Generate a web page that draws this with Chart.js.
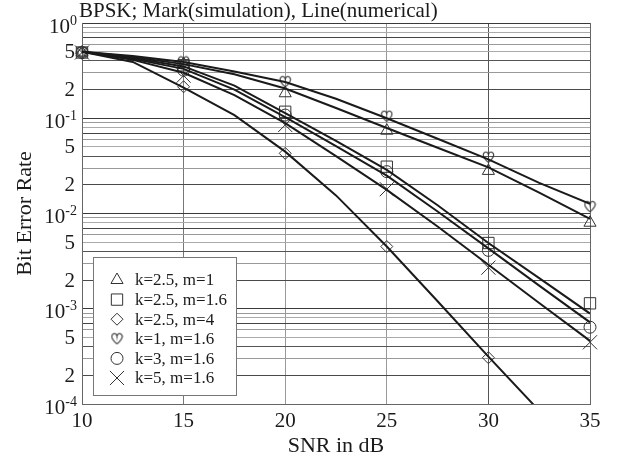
<!DOCTYPE html>
<html lang="en">
<head>
    <meta charset="UTF-8">
    <title>BPSK Bit Error Rate</title>
    <script src="https://cdn.jsdelivr.net/npm/chart.js"></script>
    <style>
        body {
            margin: 0;
            padding: 0;
            background-color: #ffffff;
        }
        #berChart {
            display: block;
        }
    </style>
</head>
<body>
<canvas id="berChart" width="620" height="459"></canvas>

<script>
    // SNR points: numerical curves every 2.5 dB, simulation marks every 5 dB
    const lineSnr = [10, 12.5, 15, 17.5, 20, 22.5, 25, 27.5, 30, 32.5, 35];
    const markSnr = [10, 15, 20, 25, 30, 35];

    // numerical BER curves
    const lineK25m1  = [0.5, 0.44, 0.37, 0.29, 0.205, 0.128, 0.079, 0.049, 0.0305, 0.0166, 0.0088];
    const lineK25m16 = [0.5, 0.43, 0.35, 0.22, 0.113, 0.058, 0.0287, 0.0122, 0.0049, 0.0021, 0.00089];
    const lineK25m4  = [0.5, 0.39, 0.21, 0.108, 0.0446, 0.0155, 0.0045, 0.0012, 0.000314, 0.000085];
    const lineK1m16  = [0.5, 0.45, 0.39, 0.31, 0.24, 0.16, 0.1, 0.061, 0.037, 0.021, 0.0126];
    const lineK3m16  = [0.5, 0.42, 0.33, 0.2, 0.103, 0.051, 0.025, 0.0105, 0.0043, 0.00175, 0.00072];
    const lineK5m16  = [0.5, 0.41, 0.3, 0.175, 0.089, 0.04, 0.0177, 0.0073, 0.0029, 0.00115, 0.00046];

    // simulated BER marks
    const markK25m1  = [0.49, 0.37, 0.183, 0.074, 0.028, 0.008];
    const markK25m16 = [0.49, 0.36, 0.117, 0.031, 0.0049, 0.00114];
    const markK25m4  = [0.48, 0.214, 0.0428, 0.0045, 0.000306];
    const markK1m16  = [0.49, 0.39, 0.242, 0.105, 0.039, 0.0118];
    const markK3m16  = [0.49, 0.32, 0.108, 0.0275, 0.0041, 0.00064];
    const markK5m16  = [0.49, 0.28, 0.085, 0.018, 0.0027, 0.000445];

    const seriesNames = ['k=2.5, m=1', 'k=2.5, m=1.6', 'k=2.5, m=4', 'k=1, m=1.6', 'k=3, m=1.6', 'k=5, m=1.6'];

    // axis ticks
    const xTicks = [10, 15, 20, 25, 30, 35];
    const yTickValues = [1, 0.5, 0.2, 0.1, 0.05, 0.02, 0.01, 0.005, 0.002, 0.001, 0.0005, 0.0002, 0.0001];
    const yTickLabels = ['10^0', '5', '2', '10^-1', '5', '2', '10^-2', '5', '2', '10^-3', '5', '2', '10^-4'];

    const serif = '"Liberation Serif", "Times New Roman", serif';
    const ink = '#1a1a1a';
    const clear = 'rgba(0,0,0,0)';

    // heart shaped marker, drawn once on a small canvas
    function makeHeart(size) {
        const c = document.createElement('canvas');
        c.width = size;
        c.height = size;
        const g = c.getContext('2d');
        const s = size;
        g.strokeStyle = '#333';
        g.lineWidth = 1.1;
        g.beginPath();
        g.moveTo(s / 2, s * 0.9);
        g.bezierCurveTo(s * 0.15, s * 0.6, s * 0.02, s * 0.35, s * 0.15, s * 0.18);
        g.bezierCurveTo(s * 0.3, s * 0.02, s * 0.48, s * 0.12, s / 2, s * 0.3);
        g.bezierCurveTo(s * 0.52, s * 0.12, s * 0.7, s * 0.02, s * 0.85, s * 0.18);
        g.bezierCurveTo(s * 0.98, s * 0.35, s * 0.85, s * 0.6, s / 2, s * 0.9);
        g.stroke();
        return c;
    }
    const heart = makeHeart(13);

    const markStyles = [
        { pointStyle: 'triangle', radius: 7 },
        { pointStyle: 'rect', radius: 8 },
        { pointStyle: 'rectRot', radius: 6 },
        { pointStyle: heart, radius: 6 },
        { pointStyle: 'circle', radius: 6 },
        { pointStyle: 'crossRot', radius: 10 }
    ];

    const lineSets = [lineK25m1, lineK25m16, lineK25m4, lineK1m16, lineK3m16, lineK5m16];
    const markSets = [markK25m1, markK25m16, markK25m4, markK1m16, markK3m16, markK5m16];

    const toPoints = (xs, ys) => ys.map((y, i) => ({ x: xs[i], y: y }));

    const datasets = [];
    lineSets.forEach((ys, i) => {
        datasets.push({
            label: seriesNames[i] + ' (numerical)',
            data: toPoints(lineSnr, ys),
            borderColor: ink,
            borderWidth: 2,
            pointRadius: 0,
            tension: 0,
            fill: false
        });
    });
    markSets.forEach((ys, i) => {
        datasets.push({
            label: seriesNames[i],
            data: toPoints(markSnr, ys),
            showLine: false,
            clip: false,
            pointStyle: markStyles[i].pointStyle,
            pointRadius: markStyles[i].radius,
            borderColor: '#333',
            borderWidth: 1,
            backgroundColor: clear
        });
    });

    // shade of each horizontal grid line inside a decade (index = significand)
    const decadeShades = ['', '#3a3a3a', '#4a4a4a', '#999', '#555', '#aaa', '#999', '#444', '#aaa', '#999'];
    const xGridShades = { 10: '#666', 15: '#777', 20: '#999', 25: '#999', 30: '#555', 35: '#666' };

    // y labels with superscript exponents, title, axis names and the inset legend
    const decorations = {
        id: 'decorations',
        afterDraw(chart) {
            const ctx = chart.ctx;
            const y = chart.scales.y;
            const area = chart.chartArea;
            ctx.save();
            ctx.fillStyle = ink;

            yTickValues.forEach((v, i) => {
                const py = y.getPixelForValue(v);
                const lab = yTickLabels[i];
                if (lab.indexOf('^') >= 0) {
                    const parts = lab.split('^');
                    ctx.font = '14px ' + serif;
                    ctx.textAlign = 'right';
                    ctx.textBaseline = 'alphabetic';
                    ctx.fillText(parts[1], 77, py + 1.5);
                    const ew = ctx.measureText(parts[1]).width;
                    ctx.font = '21px ' + serif;
                    ctx.fillText(parts[0], 77 - ew, py + 9.5);
                } else {
                    ctx.font = '21px ' + serif;
                    ctx.textAlign = 'right';
                    ctx.textBaseline = 'middle';
                    ctx.fillText(lab, 75, py + 1);
                }
            });

            // title
            ctx.font = '21px ' + serif;
            ctx.textAlign = 'left';
            ctx.textBaseline = 'alphabetic';
            ctx.fillText('BPSK; Mark(simulation), Line(numerical)', 79, 17);

            // x axis name
            ctx.font = '22px ' + serif;
            ctx.textAlign = 'center';
            ctx.textBaseline = 'middle';
            ctx.fillText('SNR in dB', (area.left + area.right) / 2, 446);

            // y axis name
            ctx.save();
            ctx.translate(25, (area.top + area.bottom) / 2);
            ctx.rotate(-Math.PI / 2);
            ctx.fillText('Bit Error Rate', 0, 0);
            ctx.restore();

            // legend box
            ctx.fillStyle = '#ffffff';
            ctx.fillRect(93.5, 257.5, 143, 138);
            ctx.strokeStyle = '#777';
            ctx.lineWidth = 1;
            ctx.strokeRect(93.5, 257.5, 143, 138);

            ctx.font = '17px ' + serif;
            ctx.textAlign = 'left';
            ctx.textBaseline = 'middle';
            seriesNames.forEach((name, i) => {
                const ly = 280 + i * 19.6;
                ctx.strokeStyle = '#333';
                ctx.fillStyle = clear;
                ctx.lineWidth = 1;
                Chart.helpers.drawPoint(ctx, {
                    pointStyle: markStyles[i].pointStyle,
                    radius: markStyles[i].radius,
                    rotation: 0,
                    borderWidth: 1
                }, 117, ly);
                ctx.fillStyle = ink;
                ctx.fillText(name, 135, ly + 1);
            });
            ctx.restore();
        }
    };

    new Chart(document.getElementById('berChart').getContext('2d'), {
        type: 'line',
        data: { datasets: datasets },
        options: {
            responsive: false,
            animation: false,
            devicePixelRatio: 1,
            layout: { padding: { top: 23, right: 30, left: 0, bottom: 0 } },
            plugins: {
                legend: { display: false },
                tooltip: { enabled: false }
            },
            scales: {
                x: {
                    type: 'linear',
                    min: 10,
                    max: 35,
                    afterBuildTicks: (scale) => { scale.ticks = xTicks.map(v => ({ value: v })); },
                    afterFit: (scale) => { scale.height = 55; },
                    border: { display: true, color: '#666', width: 1 },
                    grid: {
                        drawTicks: false,
                        color: (c) => xGridShades[c.tick.value] || '#888',
                        lineWidth: 1
                    },
                    ticks: {
                        autoSkip: false,
                        maxRotation: 0,
                        padding: 5,
                        color: ink,
                        font: { family: serif, size: 21 }
                    }
                },
                y: {
                    type: 'logarithmic',
                    min: 0.0001,
                    max: 1,
                    afterBuildTicks: (scale) => {
                        const t = [];
                        for (let e = -4; e <= 0; e++) {
                            for (let s = 1; s <= 9; s++) {
                                const v = s * Math.pow(10, e);
                                if (v <= 1.0000001) t.push({ value: v });
                            }
                        }
                        scale.ticks = t;
                    },
                    afterFit: (scale) => { scale.width = 82; },
                    border: { display: true, color: '#666', width: 1 },
                    grid: {
                        drawTicks: false,
                        lineWidth: 1,
                        color: (c) => {
                            const v = c.tick.value;
                            const s = Math.round(v / Math.pow(10, Math.floor(Math.log10(v) + 1e-9)));
                            return decadeShades[s] || '#666';
                        }
                    },
                    ticks: { display: false }
                }
            }
        },
        plugins: [decorations]
    });
</script>
</body>
</html>
